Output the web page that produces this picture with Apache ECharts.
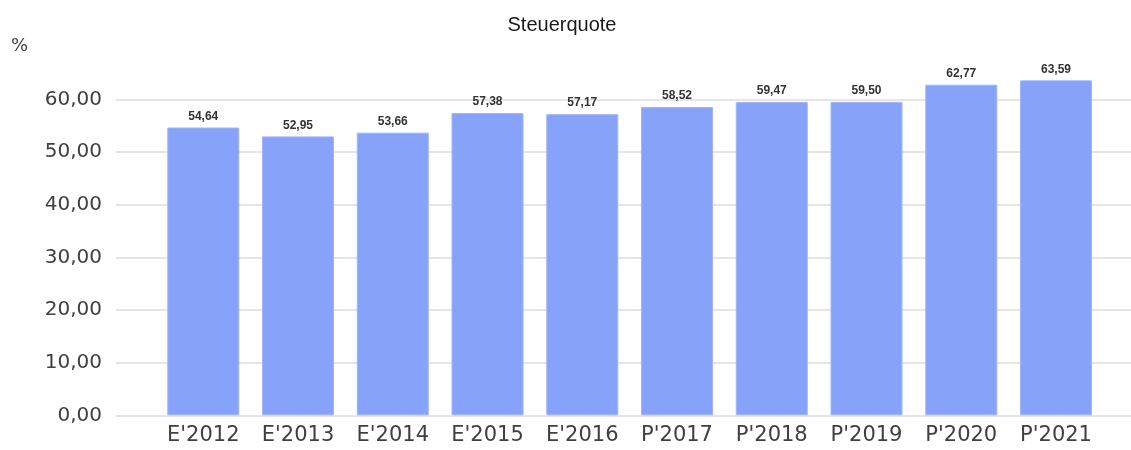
<!DOCTYPE html>
<html>
<head>
<meta charset="utf-8">
<script src="https://cdn.jsdelivr.net/npm/echarts@6/dist/echarts.min.js"></script>
<style>
html,body{margin:0;padding:0;background:#fff;}
#chart{width:1131px;height:450px;}
</style>
</head>
<body>
<div id="chart"></div>
<script>
var categories = ["E'2012","E'2013","E'2014","E'2015","E'2016","P'2017","P'2018","P'2019","P'2020","P'2021"];
var values = [54.64, 52.95, 53.66, 57.38, 57.17, 58.52, 59.47, 59.50, 62.77, 63.59];
var titleText = 'Steuerquote';
var unitText = '%';

function fmt(v){ return v.toFixed(2).replace('.', ','); }

var chart = echarts.init(document.getElementById('chart'));
chart.setOption({
  animation: false,
  backgroundColor: '#ffffff',
  title: {
    text: titleText,
    left: 557, top: 10, textAlign: 'center',
    textStyle: { fontFamily: 'Liberation Sans, Arial', fontSize: 20, fontWeight: 'normal', color: '#1a1a1a' }
  },
  graphic: [{
    type: 'text', left: 11, top: 37,
    style: { text: unitText, font: '18px "DejaVu Sans", sans-serif', fill: '#444' }
  }],
  grid: [
    { left: 116, right: 0, top: 99.3, bottom: 34.7 },
    { left: 155.9, right: 27.6, top: 46.6, bottom: 34.7 }
  ],
  xAxis: [
    { gridIndex: 0, type: 'category', data: categories, show: false },
    { gridIndex: 1, type: 'category', data: categories,
      axisLine: { show: false }, axisTick: { show: false },
      axisLabel: { margin: 10, fontFamily: 'DejaVu Sans', fontSize: 21, color: '#404040' } }
  ],
  yAxis: [
    { gridIndex: 0, type: 'value', min: 0, max: 60, interval: 10,
      axisLine: { show: false }, axisTick: { show: false },
      axisLabel: { margin: 14, fontFamily: 'DejaVu Sans', fontSize: 20, color: '#404040', formatter: fmt },
      splitLine: { lineStyle: { color: '#dddddd', width: 1.5 } } },
    { gridIndex: 1, type: 'value', min: 0, max: 70, show: false, splitLine: { show: false } }
  ],
  series: [{
    type: 'bar', xAxisIndex: 1, yAxisIndex: 1,
    data: values, barWidth: 72,
    itemStyle: { color: '#87a2f9', borderColor: '#9fb5fb', borderWidth: 1 },
    label: { show: true, position: 'top', distance: 5, formatter: function(p){ return fmt(p.value); },
      fontFamily: 'Liberation Sans, Arial', fontSize: 12, fontWeight: 'bold', color: '#333' }
  }]
});
</script>
</body>
</html>
